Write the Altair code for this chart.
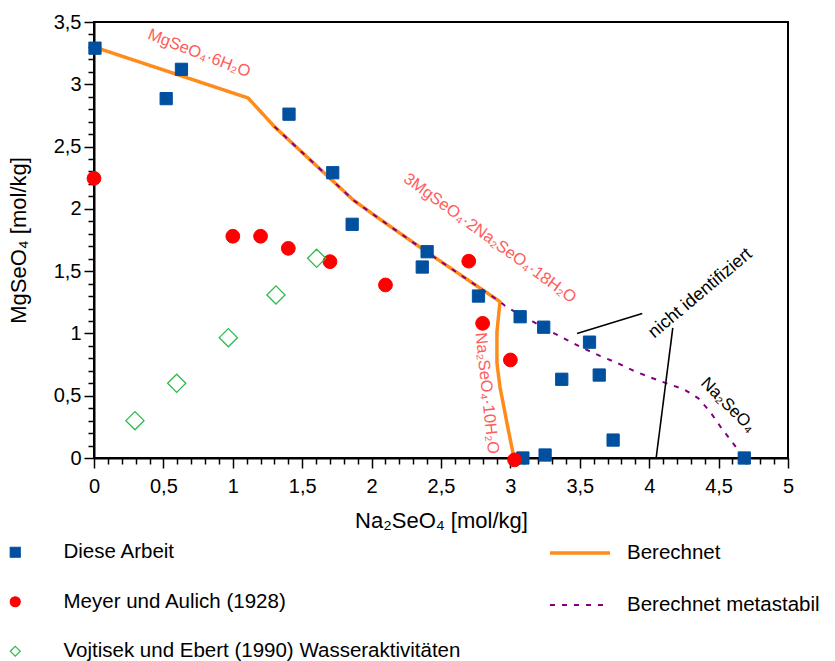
import altair as alt
import pandas as pd

# --- measured solubilities -------------------------------------------------
arbeit_na = [0.007, 0.52, 0.63, 1.405, 1.72, 1.86, 2.40, 2.365, 2.77, 3.07,
             3.24, 3.57, 3.37, 3.64, 3.74, 3.09, 3.25, 4.685]
arbeit_mg = [3.29, 2.885, 3.12, 2.76, 2.29, 1.876, 1.656, 1.533, 1.30, 1.134,
             1.05, 0.93, 0.632, 0.666, 0.144, 0.0, 0.024, 0.0]

meyer_na = [0.0, 1.00, 1.20, 1.40, 1.70, 2.10, 2.70, 2.80, 3.00, 3.03]
meyer_mg = [2.245, 1.78, 1.78, 1.683, 1.576, 1.389, 1.58, 1.081, 0.787, -0.015]

vojtisek_na = [0.295, 0.596, 0.968, 1.311, 1.604]
vojtisek_mg = [0.30, 0.60, 0.966, 1.309, 1.603]

# --- calculated isotherm ---------------------------------------------------
calc_na = [0.0, 1.11, 1.30, 1.868, 2.06, 2.40, 2.925, 2.903, 2.903, 2.925, 2.975, 3.026]
calc_mg = [3.30, 2.89, 2.66, 2.071, 1.917, 1.652, 1.255, 1.012, 0.763, 0.57, 0.281, 0.0]

meta_na = [1.30, 1.868, 2.06, 2.40, 2.925, 2.968, 3.163, 3.30, 3.41, 3.525, 3.645,
           3.765, 3.886, 4.006, 4.138, 4.251, 4.354, 4.438, 4.522, 4.601, 4.65]
meta_mg = [2.66, 2.071, 1.917, 1.652, 1.255, 1.215, 1.094, 1.01, 0.947, 0.881, 0.82,
           0.765, 0.701, 0.648, 0.594, 0.551, 0.479, 0.372, 0.238, 0.123, 0.05]

# --- annotations -------------------------------------------------------------
phase_labels = ["MgSeO₄·6H₂O", "3MgSeO₄·2Na₂SeO₄·18H₂O", "Na₂SeO₄·10H₂O"]
phase_na = [0.757, 2.853, 2.83]
phase_mg = [3.249, 1.764, 0.52]

other_labels = ["nicht identifiziert", "Na₂SeO₄"]
other_na = [4.37, 4.568]
other_mg = [1.322, 0.425]

pointer_na = [3.48, 4.17]
pointer_mg = [1.00, 1.044]
pointer_na2 = [3.95, 4.05]
pointer_mg2 = [1.16, 0.0]

sources = ["Diese Arbeit", "Meyer und Aulich (1928)",
           "Vojtisek und Ebert (1990) Wasseraktivitäten"]
models = ["Berechnet", "Berechnet metastabil"]

BLUE = "#00509f"
RED = "#ff0000"
GREEN = "#2dbb4e"
ORANGE = "#ff8c1a"
PURPLE = "#800080"
LABEL_RED = "#ff5c5c"

x_ticks = [round(i * 0.1, 1) for i in range(51)]
y_ticks = [round(i * 0.1, 1) for i in range(36)]
is_major = "abs(datum.value * 2 - round(datum.value * 2)) < 0.001"
tick_label = f"{is_major} ? replace(format(datum.value, '~g'), '.', ',') : ''"
tick_len = {"condition": {"test": is_major, "value": 10}, "value": 6}

x_enc = alt.X(
    "na:Q",
    scale=alt.Scale(domain=[0, 5], nice=False, zero=False),
    axis=alt.Axis(title="Na₂SeO₄ [mol/kg]", values=x_ticks, labelExpr=tick_label,
                  tickSize=tick_len, labelOverlap=False, labelFlush=False,
                  labelPadding=8, titlePadding=14),
)
y_enc = alt.Y(
    "mg:Q",
    scale=alt.Scale(domain=[0, 3.5], nice=False, zero=False),
    axis=alt.Axis(title="MgSeO₄ [mol/kg]", values=y_ticks, labelExpr=tick_label,
                  tickSize=tick_len, labelOverlap=False, labelFlush=False,
                  labelPadding=3, titlePadding=23),
)

pt_legend = alt.Legend(title=None, orient="none", legendX=-89, legendY=520,
                       symbolSize=100, symbolStrokeWidth=1.2, labelFontSize=20.5,
                       labelOffset=38, rowPadding=28.5, labelLimit=700, padding=0)
ln_legend = alt.Legend(title=None, orient="none", legendX=454, legendY=499,
                       symbolSize=3600, symbolType="stroke", labelFontSize=20.5,
                       labelOffset=15, rowPadding=10, labelLimit=700, padding=0)

shape_enc = alt.Shape("Quelle:N", scale=alt.Scale(domain=sources, range=["square", "circle", "diamond"]), legend=pt_legend)
fill_enc = alt.Fill("Quelle:N", scale=alt.Scale(domain=sources, range=[BLUE, RED, "transparent"]), legend=pt_legend)
stroke_enc = alt.Stroke("Quelle:N", scale=alt.Scale(domain=sources, range=[BLUE, RED, GREEN]), legend=pt_legend)

color_ln = alt.Color("Modell:N", scale=alt.Scale(domain=models, range=[ORANGE, PURPLE]), legend=ln_legend)
dash_ln = alt.StrokeDash("Modell:N", scale=alt.Scale(domain=models, range=[[1, 0], [5, 7]]), legend=ln_legend)
width_ln = alt.StrokeWidth("Modell:N", scale=alt.Scale(domain=models, range=[3.5, 2]), legend=ln_legend)


def frame(na, mg, **extra):
    df = pd.DataFrame({"na": na, "mg": mg})
    for k, v in extra.items():
        df[k] = v
    return df


calc_df = frame(calc_na, calc_mg, Modell=models[0])
calc_df["i"] = range(len(calc_df))
meta_df = frame(meta_na, meta_mg, Modell=models[1])
meta_df["i"] = range(len(meta_df))

calc_line = alt.Chart(calc_df).mark_line(strokeCap="butt", strokeJoin="round").encode(
    x=x_enc, y=y_enc, order="i:Q", color=color_ln, strokeDash=dash_ln, strokeWidth=width_ln)
meta_line = alt.Chart(meta_df).mark_line(strokeCap="butt").encode(
    x=x_enc, y=y_enc, order="i:Q", color=color_ln, strokeDash=dash_ln, strokeWidth=width_ln)

pointers = alt.Chart(pd.DataFrame({"na": pointer_na, "mg": pointer_mg,
                                   "na2": pointer_na2, "mg2": pointer_mg2})).mark_rule(
    color="black", strokeWidth=1.6).encode(x=x_enc, y=y_enc, x2="na2:Q", y2="mg2:Q")

points = [
    alt.Chart(frame(arbeit_na, arbeit_mg, Quelle=sources[0])).mark_point(size=150, strokeWidth=1, opacity=1),
    alt.Chart(frame(meyer_na, meyer_mg, Quelle=sources[1])).mark_point(size=190, strokeWidth=1, opacity=1),
    alt.Chart(frame(vojtisek_na, vojtisek_mg, Quelle=sources[2])).mark_point(size=330, strokeWidth=1.3, opacity=1),
]
points = [p.encode(x=x_enc, y=y_enc, shape=shape_enc, fill=fill_enc, stroke=stroke_enc) for p in points]

phase_angles = [21, 36, 84]
other_angles = [320, 45]
other_sizes = [18, 17]

texts = []
for lab, xv, yv, ang in zip(phase_labels, phase_na, phase_mg, phase_angles):
    texts.append(alt.Chart(pd.DataFrame({"na": [xv], "mg": [yv], "t": [lab]})).mark_text(
        angle=ang, color=LABEL_RED, fontSize=16.5, align="center", baseline="middle").encode(
        x=x_enc, y=y_enc, text="t:N"))
for lab, xv, yv, ang, fs in zip(other_labels, other_na, other_mg, other_angles, other_sizes):
    texts.append(alt.Chart(pd.DataFrame({"na": [xv], "mg": [yv], "t": [lab]})).mark_text(
        angle=ang, color="black", fontSize=fs, align="center", baseline="middle").encode(
        x=x_enc, y=y_enc, text="t:N"))

chart = alt.layer(calc_line, meta_line, pointers, *texts, *points).properties(
    width=694, height=436,
    autosize=alt.AutoSizeParams(type="none"),
    padding={"left": 94, "top": 22, "right": 47, "bottom": 203},
).configure(font="Liberation Sans").configure_view(
    stroke="black", strokeWidth=2
).configure_axis(
    grid=False, domainColor="black", domainWidth=2, tickColor="black", tickWidth=1.5,
    labelFontSize=20, labelColor="black", titleFontSize=22, titleColor="black",
    titleFontWeight="normal",
).configure_legend(labelColor="black", labelFont="Liberation Sans")

chart.save("out.html", embed_options={"renderer": "svg", "actions": False})
